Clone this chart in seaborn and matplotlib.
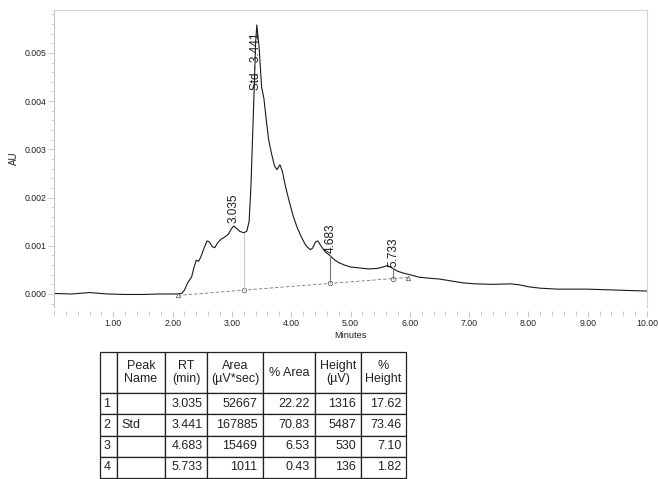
import matplotlib
matplotlib.use("Agg")
import matplotlib.pyplot as plt
import seaborn as sns
import numpy as np
import pandas as pd
from matplotlib.ticker import MultipleLocator, FormatStrFormatter

# ---------------- data ----------------
time_min = [0.00, 0.30, 0.60, 0.90, 1.20, 1.50, 1.80, 2.05, 2.15, 2.20, 2.25, 2.29,
            2.32, 2.36, 2.40, 2.44, 2.48, 2.53, 2.58, 2.62, 2.67, 2.71, 2.76, 2.82,
            2.88, 2.94, 2.99, 3.03, 3.08, 3.13, 3.20, 3.25, 3.29, 3.32, 3.35, 3.38,
            3.40, 3.42, 3.46, 3.50, 3.54, 3.58, 3.62, 3.67, 3.72, 3.76, 3.81, 3.85,
            3.90, 3.96, 4.03, 4.10, 4.18, 4.25, 4.32, 4.36, 4.41, 4.45, 4.50, 4.57,
            4.65, 4.72, 4.80, 4.90, 5.00, 5.15, 5.30, 5.45, 5.55, 5.62, 5.70, 5.80,
            5.90, 6.00, 6.15, 6.30, 6.50, 6.70, 6.90, 7.10, 7.40, 7.70, 7.85, 8.00,
            8.20, 8.50, 9.00, 9.50, 10.00]
au = [0.00001, 0.00000, 0.00003, 0.00000, -0.00001, -0.00001, 0.00000, 0.00000,
      0.00001, 0.00008, 0.00022, 0.00030, 0.00035, 0.00055, 0.00070, 0.00068,
      0.00078, 0.00095, 0.00110, 0.00108, 0.00098, 0.00096, 0.00106, 0.00114,
      0.00118, 0.00124, 0.00135, 0.00141, 0.00136, 0.00130, 0.00127, 0.00130,
      0.00150, 0.00220, 0.00330, 0.00440, 0.00520, 0.00558, 0.00510, 0.00430,
      0.00405, 0.00360, 0.00320, 0.00290, 0.00265, 0.00258, 0.00268, 0.00255,
      0.00225, 0.00195, 0.00163, 0.00138, 0.00116, 0.00100, 0.00092, 0.00095,
      0.00108, 0.00110, 0.00100, 0.00088, 0.00080, 0.00072, 0.00065, 0.00060,
      0.00056, 0.00054, 0.00052, 0.00053, 0.00056, 0.00059, 0.00054, 0.00047,
      0.00043, 0.00040, 0.00035, 0.00033, 0.00031, 0.00027, 0.00023, 0.00021,
      0.00020, 0.00021, 0.00019, 0.00015, 0.00012, 0.00010, 0.00010, 0.00008,
      0.00006]

# integration baseline (dashed) with its markers
base_t = [2.09, 3.20, 4.66, 5.72, 5.97]
base_v = [-0.00003, 0.00008, 0.00022, 0.00032, 0.00034]
base_marker = ['^', 'o', 'o', 'o', '^']
# drop lines: x, bottom, top, colour
drop_t = [3.20, 4.66, 5.72]
drop_bottom = [0.00008, 0.00022, 0.00032]
drop_top = [0.00127, 0.00080, 0.00054]
drop_color = ['#c8c8c8', '#777777', '#777777']

# peak labels
label_text = ['3.035', 'Std - 3.441', '4.683', '5.733']
label_t = [3.02, 3.41, 4.67, 5.72]
label_v = [0.00147, 0.00423, 0.00085, 0.00056]

x_ticks = [1, 2, 3, 4, 5, 6, 7, 8, 9, 10]
y_ticks = [0.000, 0.001, 0.002, 0.003, 0.004, 0.005]

# results table
peak_no = ['1', '2', '3', '4']
peak_name = ['', 'Std', '', '']
rt = [3.035, 3.441, 4.683, 5.733]
area = [52667, 167885, 15469, 1011]
pct_area = [22.22, 70.83, 6.53, 0.43]
height = [1316, 5487, 530, 136]
pct_height = [17.62, 73.46, 7.10, 1.82]
col_labels = ['', 'Peak\nName', 'RT\n(min)', 'Area\n(µV*sec)', '% Area',
              'Height\n(µV)', '%\nHeight']

# ---------------- style ----------------
sns.set_theme(style='white')
plt.rcParams['font.family'] = ['Liberation Sans', 'DejaVu Sans']
plt.rcParams['text.color'] = '#222222'

W, H = 658, 479
fig = plt.figure(figsize=(W / 100, H / 100), dpi=100)
fig.patch.set_facecolor('white')
ax = fig.add_axes([54 / W, 1 - 307 / H, (647 - 54) / W, (307 - 10) / H])
ax.set_facecolor('white')

df = pd.DataFrame({'Minutes': time_min, 'AU': au})
sns.lineplot(data=df, x='Minutes', y='AU', ax=ax, color='#1a1a1a', lw=0.8,
             estimator=None, sort=False)

# baseline
ax.plot(base_t, base_v, ls=(0, (4, 2.5)), color='#777777', lw=0.6)
for t, v, m in zip(base_t, base_v, base_marker):
    ax.plot([t], [v], marker=m, ms=3.2, mfc='white', mec='#666666', mew=0.6)
for t, b, tp, c in zip(drop_t, drop_bottom, drop_top, drop_color):
    ax.vlines(t, b, tp, color=c, lw=0.8)

for txt, t, v in zip(label_text, label_t, label_v):
    ax.text(t, v, txt, rotation=90, ha='center', va='bottom', fontsize=8.5,
            color='#1a1a1a')

ax.set_xlim(0, 10)
ax.set_ylim(-0.00027, 0.00589)
ax.set_xticks(x_ticks)
ax.set_xticklabels([f'{x:.2f}' for x in x_ticks])
ax.xaxis.set_minor_locator(MultipleLocator(0.2))
ax.set_yticks(y_ticks)
ax.yaxis.set_major_formatter(FormatStrFormatter('%.3f'))
ax.yaxis.set_minor_locator(MultipleLocator(0.0002))

for s in ['top', 'right']:
    ax.spines[s].set_color('#d6d6d6')
    ax.spines[s].set_linewidth(0.8)
ax.spines['left'].set_color('#c4c4c4')
ax.spines['left'].set_linewidth(0.8)
ax.spines['bottom'].set_visible(False)
ax.spines['bottom'].set_position(('outward', 3))

ax.tick_params(axis='x', which='both', bottom=True, direction='out',
               color='#bbbbbb', width=0.6, labelsize=6.3, labelcolor='#222222')
ax.tick_params(axis='x', which='major', length=4, pad=2)
ax.tick_params(axis='x', which='minor', length=3)
ax.tick_params(axis='y', which='both', left=True, direction='out',
               color='#c4c4c4', width=0.6, labelsize=6.3, labelcolor='#222222')
ax.tick_params(axis='y', which='major', length=4, pad=1.5)
ax.tick_params(axis='y', which='minor', length=2)

ax.set_xlabel('Minutes', fontsize=6.6, color='#222222', labelpad=2)
ax.set_ylabel('AU', fontsize=7, color='#222222', labelpad=4)

# ---------------- table ----------------
rows = [col_labels]
for i in range(len(peak_no)):
    rows.append([peak_no[i], peak_name[i], f'{rt[i]:.3f}', f'{area[i]}',
                 f'{pct_area[i]:.2f}', f'{height[i]}', f'{pct_height[i]:.2f}'])

col_w = [17, 48, 42, 56, 52, 46, 45]
tax = fig.add_axes([100 / W, 1 - 478 / H, 306 / W, 126 / H])
tax.axis('off')
tbl = tax.table(cellText=rows, bbox=[0, 0, 1, 1], cellLoc='right',
                colWidths=[w / sum(col_w) for w in col_w])
tbl.auto_set_font_size(False)
tbl.set_fontsize(9)
for (r, c), cell in tbl.get_celld().items():
    cell.set_edgecolor('#222222')
    cell.set_linewidth(0.9)
    cell.set_height(41 if r == 0 else 21.25)
    cell.PAD = 0.1
    txt = cell.get_text()
    txt.set_color('#222222')
    if r == 0:
        txt.set_ha('center')
        txt.set_linespacing(1.2)
    elif c in (0, 1):
        txt.set_ha('left')
        if c == 0:
            cell.PAD = 0.2
    else:
        txt.set_ha('right')

fig.savefig('out.png', dpi=100)
